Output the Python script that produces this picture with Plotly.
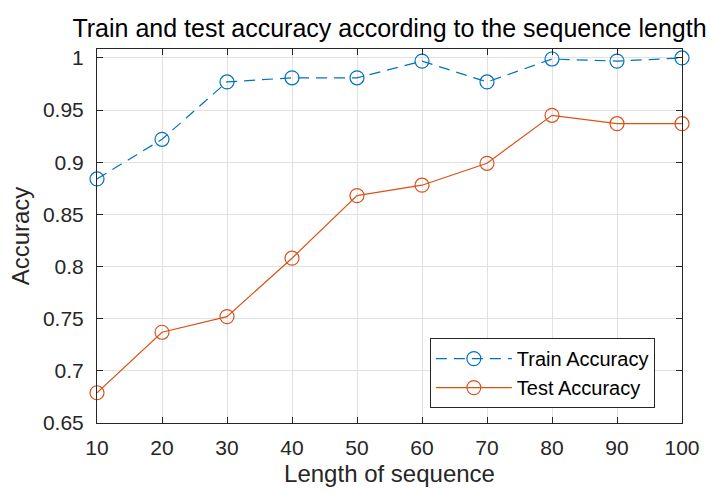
import plotly.graph_objects as go

# Sequence lengths and accuracies
seq_len = [10, 20, 30, 40, 50, 60, 70, 80, 90, 100]
train_acc = [0.884, 0.922, 0.977, 0.981, 0.981, 0.997, 0.977, 0.999, 0.997, 1.0]
test_acc = [0.679, 0.737, 0.752, 0.808, 0.868, 0.878, 0.899, 0.945, 0.937, 0.937]

y_ticks = [0.65, 0.7, 0.75, 0.8, 0.85, 0.9, 0.95, 1.0]
y_tick_text = ["0.65", "0.7", "0.75", "0.8", "0.85", "0.9", "0.95", "1"]

BLUE = "#0072BD"
ORANGE = "#D95319"
AXIS = "#262626"
FONT = "Liberation Sans, Arial, sans-serif"

fig = go.Figure()
fig.add_trace(go.Scatter(
    x=seq_len, y=train_acc, name="Train Accuracy", mode="lines+markers",
    line=dict(color=BLUE, width=1.2, dash="11px,7px"),
    marker=dict(symbol="circle-open", size=14, color=BLUE, line=dict(width=1.2)),
    cliponaxis=False,
))
fig.add_trace(go.Scatter(
    x=seq_len, y=test_acc, name="Test Accuracy", mode="lines+markers",
    line=dict(color=ORANGE, width=1.2),
    marker=dict(symbol="circle-open", size=14, color=ORANGE, line=dict(width=1.2)),
    cliponaxis=False,
))

axis_common = dict(
    showline=True, linecolor=AXIS, linewidth=1, mirror="ticks",
    ticks="inside", ticklen=6, tickcolor=AXIS,
    showgrid=True, gridcolor="#e1e1e1", gridwidth=1,
    zeroline=False, tickfont=dict(size=21, color=AXIS, family=FONT),
)

fig.update_layout(
    width=711, height=495,
    margin=dict(l=97, r=29, t=49, b=72),
    paper_bgcolor="white", plot_bgcolor="white",
    font=dict(family=FONT, color=AXIS),
    title=dict(text="Train and test accuracy according to the sequence length",
               x=0.5, xref="paper", xanchor="center", y=0.9434, yanchor="middle",
               font=dict(size=25, color="black", family=FONT)),
    xaxis=dict(range=[10, 100], tickvals=seq_len, ticklabelstandoff=6, **axis_common,
               title=dict(text="Length of sequence", font=dict(size=24, family=FONT), standoff=6)),
    yaxis=dict(range=[0.65, 1.0086], tickvals=y_ticks, ticktext=y_tick_text,
               ticklabelstandoff=8, **axis_common,
               title=dict(text="Accuracy", font=dict(size=24, family=FONT), standoff=6)),
    legend=dict(x=0.569, y=0.227, xanchor="left", yanchor="top",
                bgcolor="white", bordercolor=AXIS, borderwidth=1,
                font=dict(size=20, color="black", family=FONT),
                itemwidth=76, tracegroupgap=0),
    showlegend=True,
)

fig.write_html("out.html")
